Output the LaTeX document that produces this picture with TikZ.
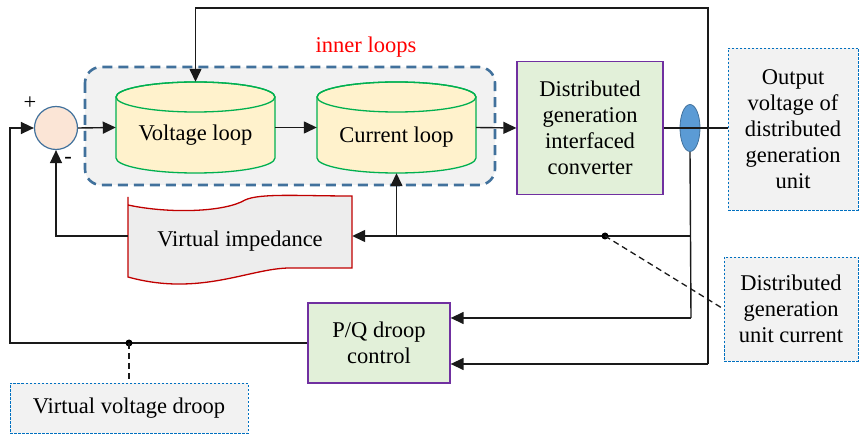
\documentclass[tikz,border=0pt]{standalone}
\usepackage{fontspec}
\setmainfont{LiberationSerif}[Extension=.ttf, UprightFont=*-Regular,
  BoldFont=*-Bold, ItalicFont=*-Italic, BoldItalicFont=*-BoldItalic]
\usetikzlibrary{arrows.meta,shapes.geometric,calc}

\definecolor{wire}{HTML}{1A1A1A}
\definecolor{frameblue}{HTML}{41719C}
\definecolor{panel}{HTML}{F2F2F2}
\definecolor{cylfill}{HTML}{FFF2CC}
\definecolor{cylline}{HTML}{00B050}
\definecolor{boxfill}{HTML}{E2F0D9}
\definecolor{boxline}{HTML}{7030A0}
\definecolor{sumfill}{HTML}{FBE5D6}
\definecolor{tapefill}{HTML}{EDEDED}
\definecolor{tapeline}{HTML}{C00000}
\definecolor{notefill}{HTML}{F2F2F2}
\definecolor{noteline}{HTML}{0070C0}
\definecolor{sensfill}{HTML}{5B9BD5}

\tikzset{
  txt/.style={font=\fontsize{22.5}{26}\selectfont, align=center, inner sep=0pt},
  wirestyle/.style={draw=wire, line width=1.4pt},
  arrowline/.style={wirestyle, -{Triangle[length=13pt,width=12pt]}},
  blockbox/.style={txt, draw=boxline, fill=boxfill, line width=1.3pt},
  notebox/.style={txt, draw=noteline, fill=notefill, line width=0.9pt,
    dash pattern=on 2.5pt off 1.5pt},
  cylbody/.style={fill=cylfill, draw=cylline, line width=1.3pt},
  leader/.style={draw=wire, line width=1.3pt, dash pattern=on 6pt off 4pt},
  junction/.style={fill=black}
}

\begin{document}
\begin{tikzpicture}[x=1pt,y=-1pt]
\useasboundingbox (0,0) rectangle (859,435);

% inner loop frame
\draw[fill=panel, draw=frameblue, line width=2.6pt, dash pattern=on 10pt off 6pt,
      rounded corners=16pt] (85,67) rectangle (495,185);
\node[txt, text=red] (innerlbl) at (366,47) {inner loops};

% cylinders for the two control loops
\foreach \cx in {195.5,396.5}{
  \path[cylbody] (\cx-79.5,97) -- (\cx-79.5,158)
     arc[start angle=180, end angle=360, x radius=79.5pt, y radius=15pt]
     -- (\cx+79.5,97)
     arc[start angle=0, end angle=180, x radius=79.5pt, y radius=15pt] -- cycle;
  \draw[cylline, line width=1.3pt] (\cx,97) ellipse [x radius=79.5pt, y radius=15pt];
}
\node[txt, minimum width=159pt, minimum height=91pt] (vl) at (195.5,127.5) {};
\node[txt] at (195.5,135) {Voltage loop};
\node[txt, minimum width=159pt, minimum height=91pt] (cl) at (396.5,127.5) {};
\node[txt] at (396.5,137) {Current loop};

% summing junction
\node[circle, draw=frameblue, fill=sumfill, line width=1.2pt, minimum size=43pt,
      inner sep=0pt] (sum) at (56,128) {};
\node[txt] (plus) at (30,103) {+};
\node[txt] (minus) at (68,160) {-};

% converter and droop control blocks
\node[blockbox, minimum width=146pt, minimum height=133pt] (conv) at (590,128)
  {Distributed\\generation\\interfaced\\converter};
\node[blockbox, minimum width=142pt, minimum height=80pt] (pq) at (379,343)
  {P/Q droop\\control};

% virtual impedance (punched tape outline)
\path[fill=tapefill, draw=tapeline, line width=1.3pt]
  (128,197) -- (128,277)
  .. controls (200,297) and (250,268) .. (290,268)
  -- (352,268) -- (352,196)
  .. controls (300,196) and (260,193) .. (245,200)
  .. controls (225,212) and (170,214) .. (128,205) -- cycle;
\node[txt, minimum width=224pt, minimum height=70pt] (vi) at (240,236) {};
\node[txt] at (240,241) {Virtual impedance};

% annotation boxes
\node[notebox, minimum width=130pt, minimum height=162pt] (out) at (793,129)
  {Output\\voltage of\\distributed\\generation\\unit};
\node[notebox, minimum width=134pt, minimum height=104pt] (cur) at (791,309)
  {Distributed\\generation\\unit current};
\node[notebox, minimum width=238pt, minimum height=50pt] (vvd) at (129,408)
  {Virtual voltage droop};

% current / voltage sensor
\node[ellipse, fill=sensfill, draw=frameblue, line width=0.8pt, minimum width=20pt,
      minimum height=47pt, inner sep=0pt] (sens) at (690,128) {};

% routing points
\coordinate (vtop) at (708,8);
\coordinate (vbot) at (708,364);
\coordinate (sbot) at (691,318);
\coordinate (smid) at (691,236);
\coordinate (dotc) at (605,236);
\coordinate (jn) at (cl.south |- smid);
\coordinate (lft) at (10,343);
\coordinate (dotv) at (129,343);

% forward path
\draw[arrowline] (sum.east) -- (vl.west);
\draw[arrowline] (vl.east) -- (cl.west);
\draw[arrowline] (cl.east) -- (conv.west);
\draw[wirestyle] (conv.east) -- (out.west |- conv.east);

% voltage feedback over the top
\draw[arrowline] (vbot) -- (vtop) -| (vl.north);
\draw[arrowline] (vbot) -- (vbot -| pq.east);

% current feedback from the sensor
\draw[wirestyle] (sens.south) -- (sbot);
\draw[arrowline] (sbot) -- (sbot -| pq.east);
\draw[arrowline] (smid) -- (vi.east);
\draw[arrowline] (jn) -- (cl.south);
\draw[arrowline] (vi.west) -| (sum.south);

% droop output back to the reference input
\draw[arrowline] (pq.west) -- (lft) |- (sum.west);

% junction dots and leaders
\fill[junction] (dotc) circle (3.5pt);
\fill[junction] (dotv) circle (3.5pt);
\draw[leader] (dotc) -- (cur.west);
\draw[leader] (dotv) -- (vvd.north);
\end{tikzpicture}
\end{document}
